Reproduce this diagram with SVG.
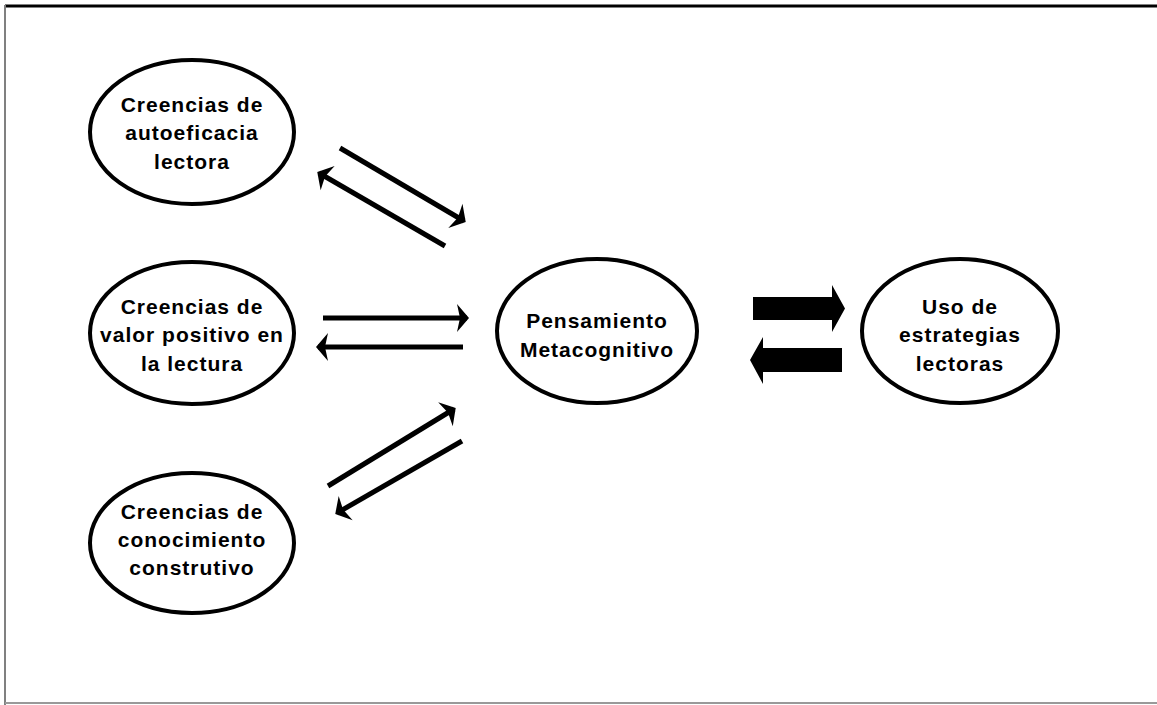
<svg xmlns="http://www.w3.org/2000/svg" width="1157" height="705" viewBox="0 0 1157 705">
<style>
.node ellipse{fill:#fff;stroke:#000;stroke-width:4}
.node text{font-family:"Liberation Sans",Arial,sans-serif;font-weight:bold;font-size:21px;letter-spacing:1px;fill:#000;text-anchor:middle}
.ln{stroke:#000;stroke-width:5;fill:none;marker-end:url(#ah)}
.blk{fill:#000}
</style>
<defs>
<marker id="ah" markerUnits="userSpaceOnUse" markerWidth="30" markerHeight="30" viewBox="-12 -15 14 30" refX="0" refY="0" orient="auto">
<path d="M2,0 L-10,-14 L-7,0 L-10,14 Z" fill="#000"/>
</marker>
</defs>
<rect x="0" y="0" width="1157" height="705" fill="#fff"/>
<g id="frame">
<line x1="5" y1="6" x2="1157" y2="6" stroke="#000" stroke-width="3"/>
<line x1="5" y1="5" x2="5" y2="705" stroke="#808080" stroke-width="2"/>
<line x1="5" y1="703" x2="1157" y2="703" stroke="#999" stroke-width="2"/>
</g>
<g id="connectors">
<line class="ln" x1="340" y1="148" x2="464" y2="221"/>
<line class="ln" x1="445" y1="246" x2="319" y2="173"/>
<line class="ln" x1="323" y1="318" x2="467" y2="318"/>
<line class="ln" x1="463" y1="347" x2="318" y2="347"/>
<line class="ln" x1="328" y1="486" x2="454" y2="409"/>
<line class="ln" x1="462" y1="441" x2="337" y2="513"/>
<path class="blk" d="M753,297 L832,297 L832,285 L845,308.5 L832,332 L832,320 L753,320 Z"/>
<path class="blk" d="M842,348 L763,348 L763,337 L750,360 L763,384 L763,372 L842,372 Z"/>
</g>
<g id="n1" class="node">
<ellipse cx="192" cy="132" rx="102" ry="72"/>
<text x="192" y="112">Creencias de</text>
<text x="192" y="140">autoeficacia</text>
<text x="192" y="169">lectora</text>
</g>
<g id="n2" class="node">
<ellipse cx="192" cy="333" rx="102" ry="71"/>
<text x="192" y="314">Creencias de</text>
<text x="192" y="342">valor positivo en</text>
<text x="192" y="371">la lectura</text>
</g>
<g id="n3" class="node">
<ellipse cx="192" cy="543" rx="102" ry="70"/>
<text x="192" y="519">Creencias de</text>
<text x="192" y="547">conocimiento</text>
<text x="192" y="575">construtivo</text>
</g>
<g id="n4" class="node">
<ellipse cx="597" cy="331" rx="100" ry="72"/>
<text x="597" y="328">Pensamiento</text>
<text x="597" y="357">Metacognitivo</text>
</g>
<g id="n5" class="node">
<ellipse cx="960" cy="331" rx="98" ry="72"/>
<text x="960" y="314">Uso de</text>
<text x="960" y="342">estrategias</text>
<text x="960" y="371">lectoras</text>
</g>
</svg>
